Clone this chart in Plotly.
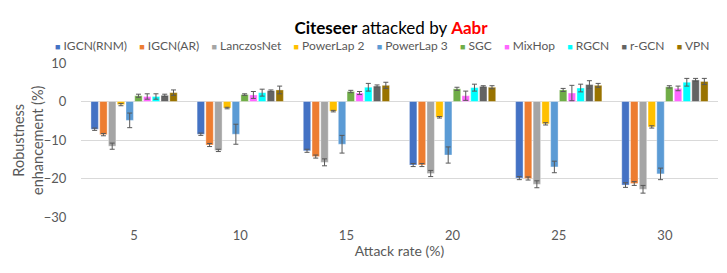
import plotly.graph_objects as go

attack_rates = ["5", "10", "15", "20", "25", "30"]
series_names = ["IGCN(RNM)", "IGCN(AR)", "LanczosNet", "PowerLap 2", "PowerLap 3",
                "SGC", "MixHop", "RGCN", "r-GCN", "VPN"]
colors = ["#4472C4", "#ED7D31", "#A5A5A5", "#FFC000", "#5B9BD5",
          "#70AD47", "#FF66FF", "#00FFFF", "#636363", "#997300"]

igcn_rnm = [-7.2, -8.5, -12.8, -16.5, -19.9, -21.7]
igcn_ar = [-8.6, -11.3, -14.3, -16.5, -20.0, -21.3]
lanczos = [-11.6, -12.7, -15.8, -18.7, -21.5, -22.8]
powerlap2 = [-0.8, -1.7, -2.5, -4.1, -5.8, -6.6]
powerlap3 = [-4.9, -8.5, -11.1, -13.9, -17.0, -18.8]
sgc = [1.5, 1.8, 2.6, 3.3, 3.0, 3.8]
mixhop = [1.3, 1.7, 2.2, 1.5, 2.2, 3.4]
rgcn = [1.3, 2.3, 3.7, 3.6, 3.5, 5.0]
rgcn2 = [1.6, 2.8, 4.0, 3.9, 4.4, 5.6]
vpn = [2.3, 3.0, 4.2, 3.7, 4.2, 5.2]

err_igcn_rnm = [0.3, 0.3, 0.4, 0.4, 0.4, 0.6]
err_igcn_ar = [0.3, 0.4, 0.4, 0.4, 0.4, 0.5]
err_lanczos = [0.8, 0.3, 0.9, 0.8, 0.9, 1.0]
err_powerlap2 = [0.3, 0.2, 0.2, 0.2, 0.3, 0.3]
err_powerlap3 = [1.9, 2.6, 2.3, 2.1, 1.5, 1.5]
err_sgc = [0.4, 0.2, 0.3, 0.4, 0.4, 0.3]
err_mixhop = [0.7, 0.9, 0.4, 1.2, 2.0, 0.6]
err_rgcn = [0.7, 0.9, 1.0, 0.9, 1.0, 1.0]
err_rgcn2 = [0.3, 0.2, 0.3, 0.2, 1.0, 0.4]
err_vpn = [0.7, 1.0, 0.8, 0.4, 0.5, 0.8]

values = [igcn_rnm, igcn_ar, lanczos, powerlap2, powerlap3, sgc, mixhop, rgcn, rgcn2, vpn]
errors = [err_igcn_rnm, err_igcn_ar, err_lanczos, err_powerlap2, err_powerlap3,
          err_sgc, err_mixhop, err_rgcn, err_rgcn2, err_vpn]

FONT = "Lato"
TXT = "#595959"

fig = go.Figure()
for name, col, vals, errs in zip(series_names, colors, values, errors):
    fig.add_trace(go.Bar(
        x=attack_rates, y=vals, name=name,
        marker=dict(color=col, line=dict(color="rgba(255,255,255,0.45)", width=0.8)),
        error_y=dict(type="data", array=errs, visible=True, color="#595959",
                     thickness=1, width=2.5),
        showlegend=False,
    ))

legend_text = "&nbsp;&nbsp;&nbsp;&nbsp;".join(
    f"<span style='color:{c};font-size:9px'>■</span> {n}" for n, c in zip(series_names, colors)
)

fig.update_layout(
    width=727, height=273,
    margin=dict(l=81, r=9, t=63, b=56, autoexpand=False),
    paper_bgcolor="white", plot_bgcolor="white",
    barmode="group", bargap=0.175, bargroupgap=0.15,
    font=dict(family=FONT, color=TXT, size=13),
    title=dict(
        text="<b>Citeseer</b> attacked by <b><span style='color:#FF0000'>Aabr</span></b>",
        x=391 / 727, xref="container", xanchor="center",
        y=1 - 28 / 273, yref="container", yanchor="middle",
        font=dict(family=FONT, size=17, color="black"),
        automargin=False,
    ),
    annotations=[
        dict(
            text=legend_text, xref="paper", yref="paper",
            x=(382 - 81) / 637, y=1 + (63 - 46) / 154,
            xanchor="center", yanchor="middle", showarrow=False,
            font=dict(family=FONT, size=12, color=TXT),
        ),
        dict(
            text="Robustness<br>enhancement (%)", xref="paper", yref="paper",
            x=(28 - 81) / 637, y=0.5, textangle=-90,
            xanchor="center", yanchor="middle", showarrow=False,
            font=dict(family=FONT, size=14.5, color=TXT),
        ),
    ],
    xaxis=dict(
        title=dict(text="Attack rate (%)", font=dict(size=14, color=TXT), standoff=4),
        ticks="outside", ticklen=6, tickcolor="rgba(0,0,0,0)",
        showline=False, showgrid=False, automargin=False,
        tickfont=dict(size=13, color=TXT),
    ),
    yaxis=dict(
        range=[-30, 10], dtick=10, tick0=0, automargin=False,
        showgrid=True, gridcolor="#D9D9D9", gridwidth=1,
        zeroline=True, zerolinecolor="#D9D9D9", zerolinewidth=1,
        ticks="outside", ticklen=11, tickcolor="rgba(0,0,0,0)",
        tickfont=dict(size=13, color=TXT),
    ),
)

fig.write_html("out.html", config={"displayModeBar": False},
               post_script="document.body.style.margin='0';")
